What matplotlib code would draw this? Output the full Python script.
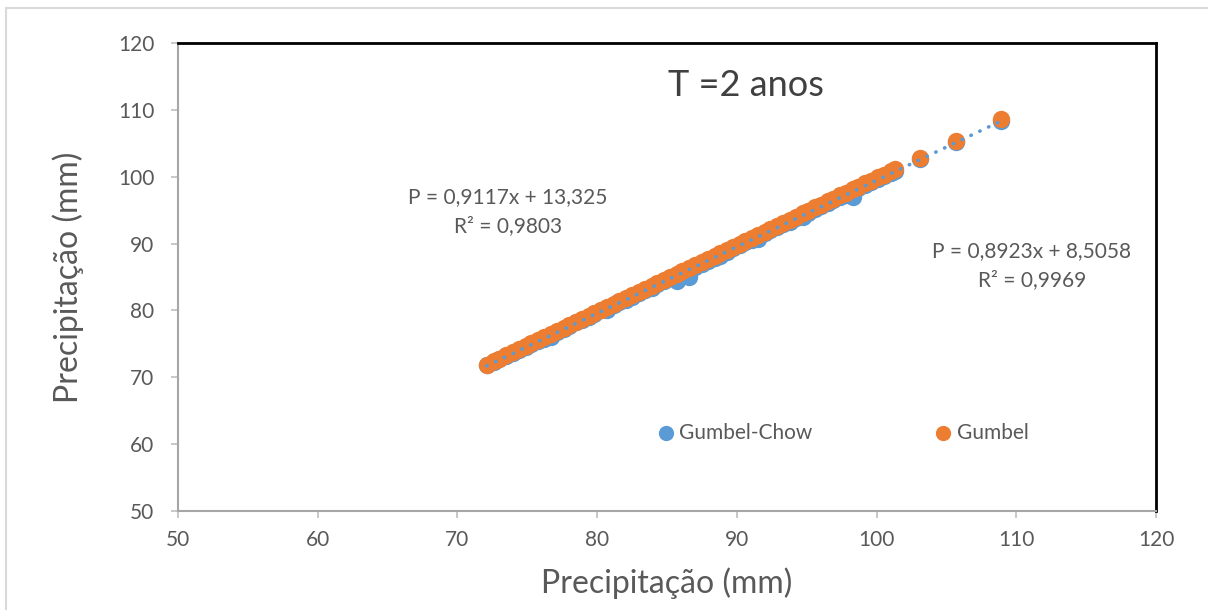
import numpy as np
import matplotlib
matplotlib.use("Agg")
import matplotlib.pyplot as plt
from matplotlib.patches import Rectangle

# Data
gumbel_x = [72.1, 72.6, 73.0, 73.5, 74.0, 74.4, 74.9, 75.3, 75.8, 76.2, 76.7, 77.1,
            77.6, 78.0, 78.5, 78.9, 79.4, 79.8, 80.3, 80.7, 81.2, 81.6, 82.1, 82.5,
            83.0, 83.4, 83.9, 84.3, 84.8, 85.2, 85.7, 86.1, 86.6, 87.0, 87.5, 87.9,
            88.4, 88.8, 89.3, 89.7, 90.2, 90.6, 91.1, 91.5, 92.0, 92.4, 92.9, 93.3,
            93.8, 94.2, 94.7, 95.1, 95.6, 96.0, 96.5, 96.9, 97.4, 97.8, 98.3, 98.7,
            99.2, 99.6, 100.1, 100.5, 101.0, 101.3, 103.1, 105.7, 108.9]
gumbel_y = [71.9, 72.4, 72.8, 73.3, 73.8, 74.2, 74.7, 75.1, 75.6, 76.0, 76.5, 76.9,
            77.4, 77.8, 78.3, 78.7, 79.2, 79.6, 80.1, 80.5, 81.0, 81.4, 81.9, 82.3,
            82.8, 83.2, 83.7, 84.1, 84.6, 85.0, 85.5, 85.9, 86.4, 86.8, 87.3, 87.7,
            88.2, 88.6, 89.1, 89.5, 90.0, 90.4, 90.9, 91.3, 91.8, 92.2, 92.7, 93.1,
            93.6, 94.0, 94.5, 94.9, 95.4, 95.8, 96.3, 96.7, 97.2, 97.6, 98.1, 98.5,
            99.0, 99.4, 99.9, 100.3, 100.8, 101.1, 102.8, 105.4, 108.6]
chow_x = gumbel_x
chow_y = [71.8, 72.3, 72.7, 73.2, 73.7, 74.1, 74.6, 75.0, 75.5, 75.8, 76.1, 76.7,
          77.2, 77.7, 78.2, 78.6, 79.0, 79.5, 80.0, 80.0, 80.8, 81.3, 81.5, 82.0,
          82.6, 83.0, 83.3, 83.9, 84.4, 84.8, 84.4, 85.6, 85.0, 86.5, 87.0, 87.4,
          87.9, 88.2, 88.8, 89.3, 89.8, 90.2, 90.5, 90.7, 91.6, 92.0, 92.5, 92.9,
          93.3, 93.8, 94.0, 94.6, 95.1, 95.6, 96.1, 96.5, 97.0, 97.3, 97.0, 98.3,
          98.8, 99.2, 99.7, 100.1, 100.6, 100.9, 102.6, 105.2, 108.4]

eq_chow = ["P = 0,9117x + 13,325", "R² = 0,9803"]
eq_gumbel = ["P = 0,8923x + 8,5058", "R² = 0,9969"]
title_text = "T =2 anos"
axis_label = "Precipitação (mm)"
ticks = [50, 60, 70, 80, 90, 100, 110, 120]

plt.rcParams['font.family'] = ['Lato', 'DejaVu Sans']

fig = plt.figure(figsize=(12.08, 6.10), dpi=100)
fig.patch.set_facecolor('white')
# outer chart border
fig.add_artist(Rectangle((6/1208, -0.1), 1.2, (610-8)/610 + 0.1,
                         transform=fig.transFigure, fill=False,
                         edgecolor='#D9D9D9', lw=1.5))

ax = fig.add_axes([178/1208, 1-511/610, (1156-178)/1208, (511-43)/610])
blue = '#5B9BD5'
orange = '#ED7D31'
gray_txt = '#595959'

ax.plot(chow_x, chow_y, 'o', color=blue, ms=12.5, mew=0, zorder=3)
ax.plot(gumbel_x, gumbel_y, 'o', color=orange, ms=12.5, mew=0, zorder=4)

# linear trendline (Gumbel-Chow) drawn as dotted blue line
coef = np.polyfit(chow_x, chow_y, 1)
xt = np.array([min(chow_x), max(chow_x)])
ax.plot(xt, np.polyval(coef, xt), color=blue, lw=2.6,
        linestyle=(0, (0.1, 2.6)), dash_capstyle='round', zorder=5)

ax.set_xlim(50, 120)
ax.set_ylim(50, 120)
ax.set_xticks(ticks)
ax.set_yticks(ticks)
ax.tick_params(axis='both', direction='out', length=5, width=1.2,
               color='#BFBFBF', labelcolor=gray_txt, labelsize=15)
ax.tick_params(axis='x', pad=9)
ax.tick_params(axis='y', pad=12)
for s in ['left', 'bottom']:
    ax.spines[s].set_color('#A6A6A6')
    ax.spines[s].set_linewidth(1.5)
for s in ['top', 'right']:
    ax.spines[s].set_color('black')
    ax.spines[s].set_linewidth(2)

fig.text(667/1208, 1-583/610, axis_label, fontsize=23, color=gray_txt,
         ha='center', va='center')
fig.text(68/1208, 1-277/610, axis_label, fontsize=23, color=gray_txt,
         ha='center', va='center', rotation=90)

fig.text(746/1208, 1-86/610, title_text, fontsize=26, color='#404040',
         ha='center', va='center')

for txt, (px, py) in zip(eq_chow + eq_gumbel,
                         [(508, 197), (508, 226), (1032, 251), (1032, 280)]):
    fig.text(px/1208, 1-py/610, txt, fontsize=15, color=gray_txt,
             ha='center', va='center')

# legend
fig.add_artist(plt.Line2D([666/1208], [1-433/610], marker='o', color=blue,
                          ms=11, mew=0, linestyle='none'))
fig.text(679/1208, 1-433/610, "Gumbel-Chow", fontsize=15, color=gray_txt,
         ha='left', va='center')
fig.add_artist(plt.Line2D([943/1208], [1-433/610], marker='o', color=orange,
                          ms=11, mew=0, linestyle='none'))
fig.text(957/1208, 1-433/610, "Gumbel", fontsize=15, color=gray_txt,
         ha='left', va='center')

fig.savefig('out.png', dpi=100)
